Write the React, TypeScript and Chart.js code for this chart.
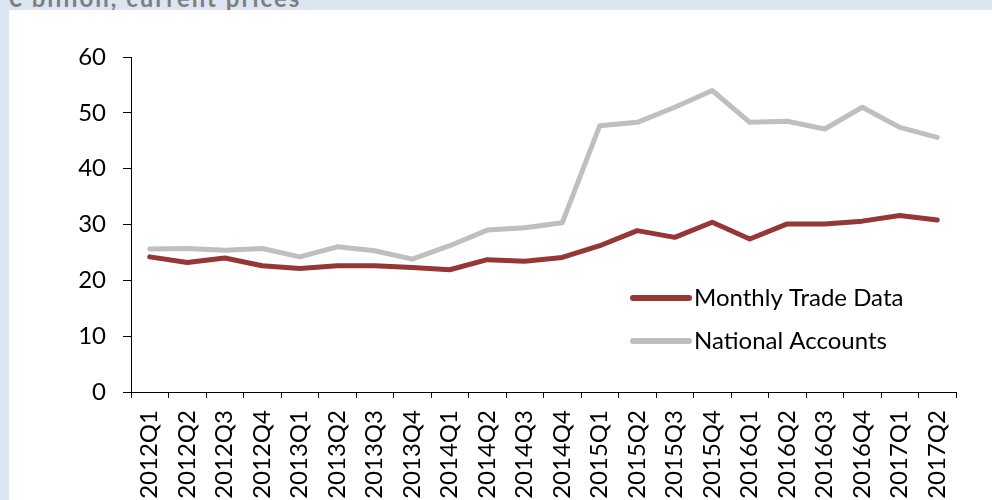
import React, { useEffect, useRef } from "react";
import { Chart, registerables } from "chart.js";

Chart.register(...registerables);

const categories = [
  "2012Q1", "2012Q2", "2012Q3", "2012Q4",
  "2013Q1", "2013Q2", "2013Q3", "2013Q4",
  "2014Q1", "2014Q2", "2014Q3", "2014Q4",
  "2015Q1", "2015Q2", "2015Q3", "2015Q4",
  "2016Q1", "2016Q2", "2016Q3", "2016Q4",
  "2017Q1", "2017Q2",
];

const monthlyTradeData = [
  24.2, 23.2, 24.0, 22.6, 22.1, 22.6, 22.6, 22.3, 21.9, 23.7, 23.4,
  24.1, 26.2, 28.9, 27.7, 30.4, 27.4, 30.1, 30.1, 30.6, 31.6, 30.8,
];

const nationalAccounts = [
  25.6, 25.7, 25.4, 25.7, 24.2, 26.0, 25.3, 23.8, 26.2, 29.0, 29.4,
  30.3, 47.7, 48.3, 51.0, 54.0, 48.3, 48.5, 47.1, 51.0, 47.4, 45.6,
];

const seriesNames = ["Monthly Trade Data", "National Accounts"];
const seriesColors = ["#953735", "#bfbfbf"];
const yTicks = { min: 0, max: 60, step: 10 };
const titleText = "€ billion, current prices";

const FONT = "Lato, 'Liberation Sans', sans-serif";

const legendPlugin = {
  id: "customLegend",
  afterDraw(chart: any) {
    const ctx = chart.ctx;
    const a = chart.chartArea;
    const x0 = a.left + 502;
    const x1 = a.left + 558;
    const tx = a.left + 563;
    const ys = [a.top + 241, a.top + 284];
    ctx.save();
    seriesNames.forEach((name, i) => {
      ctx.beginPath();
      ctx.strokeStyle = seriesColors[i];
      ctx.lineWidth = 6;
      ctx.lineCap = "round";
      ctx.moveTo(x0, ys[i]);
      ctx.lineTo(x1, ys[i]);
      ctx.stroke();
      ctx.fillStyle = "#000";
      ctx.font = `24px ${FONT}`;
      ctx.textAlign = "left";
      ctx.textBaseline = "middle";
      ctx.fillText(name, tx, ys[i]);
    });
    ctx.restore();
  },
};

export default function App() {
  const ref = useRef<HTMLCanvasElement | null>(null);

  useEffect(() => {
    if (!ref.current) return;
    const chart = new Chart(ref.current, {
      type: "line",
      data: {
        labels: categories,
        datasets: [
          {
            label: seriesNames[1],
            data: nationalAccounts,
            borderColor: seriesColors[1],
            backgroundColor: seriesColors[1],
            borderWidth: 5,
            pointRadius: 0,
            tension: 0,
            borderJoinStyle: "round",
            borderCapStyle: "round",
          },
          {
            label: seriesNames[0],
            data: monthlyTradeData,
            borderColor: seriesColors[0],
            backgroundColor: seriesColors[0],
            borderWidth: 5,
            pointRadius: 0,
            tension: 0,
            borderJoinStyle: "round",
            borderCapStyle: "round",
          },
        ],
      },
      options: {
        responsive: false,
        animation: false,
        layout: { padding: { top: 47, right: 36, left: 0, bottom: 0 } },
        plugins: {
          legend: { display: false },
          tooltip: { enabled: false },
          title: { display: false },
        },
        scales: {
          x: {
            type: "category",
            offset: true,
            grid: {
              offset: true,
              drawOnChartArea: false,
              drawTicks: true,
              tickLength: 6,
              color: "#000",
              lineWidth: 1,
            },
            border: { color: "#000", width: 1 },
            ticks: {
              autoSkip: false,
              maxRotation: 90,
              minRotation: 90,
              padding: 12,
              color: "#000",
              font: { family: FONT, size: 24 },
            },
            afterFit(scale: any) {
              scale.height = 108;
            },
          },
          y: {
            min: yTicks.min,
            max: yTicks.max,
            grid: {
              drawOnChartArea: false,
              drawTicks: true,
              tickLength: 8,
              color: "#000",
              lineWidth: 1,
            },
            border: { color: "#000", width: 1 },
            ticks: {
              stepSize: yTicks.step,
              padding: 17,
              color: "#000",
              font: { family: FONT, size: 24 },
            },
            afterFit(scale: any) {
              scale.width = 122;
            },
          },
        },
      },
      plugins: [legendPlugin],
    });
    return () => chart.destroy();
  }, []);

  return (
    <div
      style={{
        position: "fixed",
        left: 0,
        top: 0,
        width: 992,
        height: 500,
        background: "#dce6f2",
        overflow: "hidden",
      }}
    >
      <div
        style={{
          position: "absolute",
          left: 8,
          top: -14,
          fontFamily: FONT,
          fontWeight: 700,
          fontSize: 24,
          lineHeight: "24px",
          letterSpacing: "2px",
          color: "#7f7f7f",
          whiteSpace: "nowrap",
        }}
      >
        {titleText}
      </div>
      <div
        style={{
          position: "absolute",
          left: 9,
          top: 10,
          width: 983,
          height: 490,
          background: "#ffffff",
        }}
      >
        <canvas ref={ref} width={983} height={490} style={{ display: "block" }} />
      </div>
    </div>
  );
}
